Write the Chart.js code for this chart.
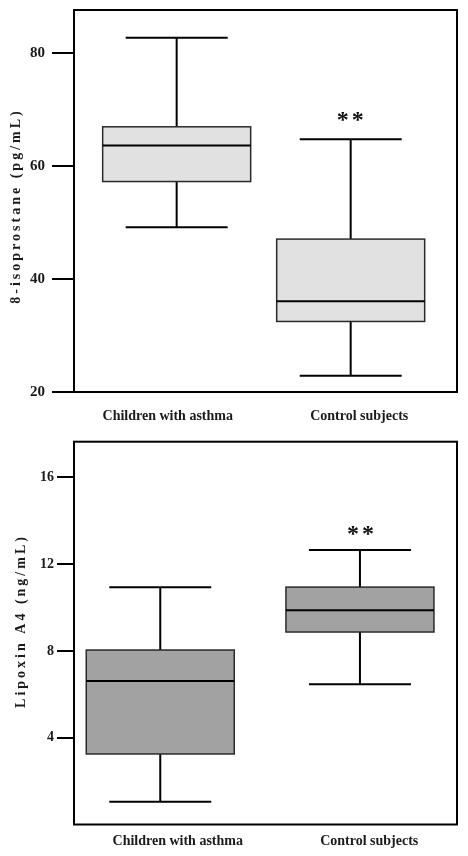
<!DOCTYPE html>
<html>
<head>
<meta charset="utf-8">
<script src="https://cdn.jsdelivr.net/npm/chart.js@4.4.1/dist/chart.umd.min.js"></script>
<style>
  html, body { margin: 0; padding: 0; background: #fff; }
  .panel { position: relative; width: 468px; }
  #top { height: 430px; }
  #bottom { height: 426px; }
</style>
</head>
<body>
<div class="panel" id="top"><canvas id="isoChart"></canvas></div>
<div class="panel" id="bottom"><canvas id="lxChart"></canvas></div>
<script>
const groups = ["Children with asthma", "Control subjects"];
const groupPos = [1, 2];
const significance = ["", "**"];

// 8-isoprostane (pg/mL): low whisker, Q1, median, Q3, high whisker
const isoMin = [49.2, 22.9];
const isoQ1 = [57.3, 32.5];
const isoMedian = [63.7, 36.1];
const isoQ3 = [67.0, 47.1];
const isoMax = [82.8, 64.8];
const isoTicks = [20, 40, 60, 80];

// Lipoxin A4 (ng/mL)
const lxMin = [1.05, 6.46];
const lxQ1 = [3.25, 8.87];
const lxMedian = [6.61, 9.87];
const lxQ3 = [8.04, 10.94];
const lxMax = [10.93, 12.65];
const lxTicks = [4, 8, 12, 16];

const serif = "'Liberation Serif', 'Times New Roman', serif";

// draws frame, whiskers, boxes, medians, stars and the spaced y title
const boxPlugin = {
  id: "boxPlot",
  afterDatasetsDraw(chart, args, opts) {
    const ctx = chart.ctx;
    const xs = chart.scales.x;
    const ys = chart.scales.y;
    const area = chart.chartArea;
    ctx.save();

    for (let i = 0; i < opts.median.length; i++) {
      const cx = xs.getPixelForValue(groupPos[i]);
      const yMin = ys.getPixelForValue(opts.min[i]);
      const yQ1 = ys.getPixelForValue(opts.q1[i]);
      const yMed = ys.getPixelForValue(opts.median[i]);
      const yQ3 = ys.getPixelForValue(opts.q3[i]);
      const yMax = ys.getPixelForValue(opts.max[i]);
      const hb = opts.boxWidth / 2;
      const hc = opts.capWidth / 2;

      ctx.strokeStyle = "#000";
      ctx.lineWidth = 2;
      ctx.beginPath();
      ctx.moveTo(cx, yQ3); ctx.lineTo(cx, yMax);
      ctx.moveTo(cx - hc, yMax); ctx.lineTo(cx + hc, yMax);
      ctx.moveTo(cx, yQ1); ctx.lineTo(cx, yMin);
      ctx.moveTo(cx - hc, yMin); ctx.lineTo(cx + hc, yMin);
      ctx.stroke();

      ctx.fillStyle = opts.fill;
      ctx.fillRect(cx - hb, yQ3, hb * 2, yQ1 - yQ3);
      ctx.strokeStyle = "#2a2a2a";
      ctx.lineWidth = 1.5;
      ctx.strokeRect(cx - hb, yQ3, hb * 2, yQ1 - yQ3);

      ctx.strokeStyle = "#000";
      ctx.lineWidth = 2;
      ctx.beginPath();
      ctx.moveTo(cx - hb, yMed); ctx.lineTo(cx + hb, yMed);
      ctx.stroke();

      if (significance[i]) {
        ctx.save();
        ctx.fillStyle = "#111";
        ctx.font = "bold 24px " + serif;
        ctx.letterSpacing = "3px";
        ctx.textAlign = "center";
        ctx.textBaseline = "alphabetic";
        ctx.fillText(significance[i], cx + opts.starShift, yMax - opts.starGap);
        ctx.restore();
      }
    }

    ctx.strokeStyle = "#000";
    ctx.lineWidth = 2;
    ctx.strokeRect(area.left, area.top, area.right - area.left, area.bottom - area.top);

    ctx.translate(opts.titleX, opts.titleY);
    ctx.rotate(-Math.PI / 2);
    ctx.fillStyle = "#1a1a1a";
    ctx.font = "bold 14px " + serif;
    ctx.letterSpacing = "3px";
    ctx.textAlign = "center";
    ctx.textBaseline = "middle";
    ctx.fillText(opts.title, 0, 0);
    ctx.restore();
  },
};

function makeChart(el, cfg) {
  return new Chart(el, {
    type: "scatter",
    data: {
      datasets: [{
        data: groupPos.map((x, i) => ({ x: x, y: cfg.median[i] })),
        pointRadius: 0,
      }],
    },
    plugins: [boxPlugin],
    options: {
      responsive: true,
      maintainAspectRatio: false,
      animation: false,
      events: [],
      layout: { padding: { left: 0, right: 11, top: cfg.padTop, bottom: 0 } },
      plugins: {
        legend: { display: false },
        tooltip: { enabled: false },
        boxPlot: {
          min: cfg.min, q1: cfg.q1, median: cfg.median, q3: cfg.q3, max: cfg.max,
          fill: cfg.fill, boxWidth: 148, capWidth: 102,
          starShift: cfg.starShift, starGap: cfg.starGap,
          title: cfg.title, titleX: cfg.titleX, titleY: cfg.titleY,
        },
      },
      scales: {
        x: { type: "linear", display: false, min: cfg.xMin, max: cfg.xMax },
        xl: {
          type: "category",
          position: "bottom",
          labels: groups,
          offset: true,
          grid: { display: false, drawTicks: false },
          border: { display: false },
          ticks: {
            color: "#1a1a1a",
            font: { family: serif, size: 14, weight: "bold" },
            padding: cfg.labelPad,
            labelOffset: cfg.labelOffset,
            maxRotation: 0,
          },
          afterFit: (s) => { s.height = cfg.xAxisHeight; s.paddingLeft = 0; s.paddingRight = 0; },
        },
        y: {
          type: "linear",
          min: cfg.yMin,
          max: cfg.yMax,
          afterBuildTicks: (s) => { s.ticks = cfg.ticks.map((v) => ({ value: v })); },
          grid: { drawOnChartArea: false, drawTicks: true, tickLength: cfg.tickLen, color: "#000", lineWidth: 2 },
          border: { display: false },
          ticks: {
            color: "#1a1a1a",
            font: { family: serif, size: cfg.tickFont, weight: "bold" },
            padding: cfg.tickPad,
          },
          afterFit: (s) => { s.width = 74; s.paddingTop = 0; s.paddingBottom = 0; },
        },
      },
    },
  });
}

makeChart(document.getElementById("isoChart"), {
  min: isoMin, q1: isoQ1, median: isoMedian, q3: isoQ3, max: isoMax,
  ticks: isoTicks, yMin: 20, yMax: 87.7,
  xMin: 0.41, xMax: 2.611,
  fill: "#e1e1e1", starShift: 1, starGap: 12,
  title: "8-isoprostane (pg/mL)", titleX: 16, titleY: 206,
  padTop: 10, xAxisHeight: 38, labelPad: 16, labelOffset: -2,
  tickLen: 22, tickPad: 7, tickFont: 15,
});

makeChart(document.getElementById("lxChart"), {
  min: lxMin, q1: lxQ1, median: lxMedian, q3: lxQ3, max: lxMax,
  ticks: lxTicks, yMin: 0, yMax: 17.64,
  xMin: 0.568, xMax: 2.486,
  fill: "#a2a2a2", starShift: 2, starGap: 9,
  title: "Lipoxin A4 (ng/mL)", titleX: 21, titleY: 191,
  padTop: 11.7, xAxisHeight: 31.5, labelPad: 8, labelOffset: 8,
  tickLen: 17, tickPad: 3, tickFont: 14,
});
</script>
</body>
</html>
